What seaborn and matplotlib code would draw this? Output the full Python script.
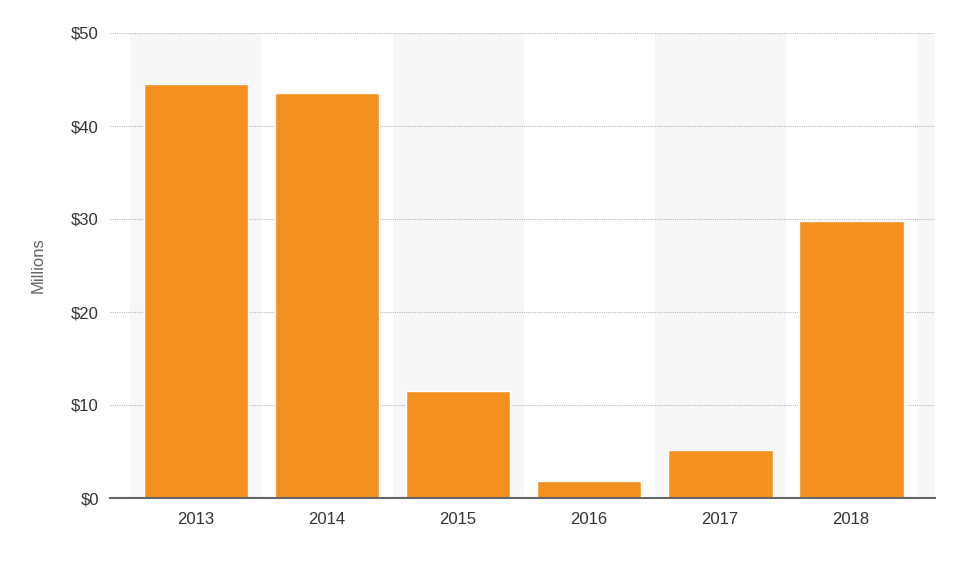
import matplotlib
matplotlib.use("Agg")
import matplotlib.pyplot as plt
import seaborn as sns
import pandas as pd
from matplotlib.ticker import FixedLocator

years = ["2013", "2014", "2015", "2016", "2017", "2018"]
values = [44.5, 43.5, 11.5, 1.8, 5.2, 29.8]
yticks = [0, 10, 20, 30, 40, 50]
ylabels = ["$0", "$10", "$20", "$30", "$40", "$50"]

sns.set_style("white")
plt.rcParams['font.family'] = ['Liberation Sans', 'DejaVu Sans']

fig = plt.figure(figsize=(9.65, 5.8), dpi=100)
ax = fig.add_axes([110/965, 82/580, 825/965, 465/580])
df = pd.DataFrame({"year": years, "value": values})

for i in range(0, 7, 2):
    ax.axvspan(i - 0.5, i + 0.5, color="#f7f7f7", zorder=0, lw=0)
for y in yticks[1:]:
    ax.axhline(y, color="#bbbbbb", lw=0.8, ls=(0, (1, 1)), zorder=0.5)

sns.barplot(data=df, x="year", y="value", color="#f39020", saturation=1,
            width=0.8, ax=ax, zorder=2)

ax.set_xlim(-0.656, 5.64)
ax.set_ylim(0, 50)
ax.set_yticks(yticks)
ax.set_yticklabels(ylabels, fontsize=12, color="#333333")
ax.tick_params(axis="y", length=0, pad=8)
ax.tick_params(axis="x", length=0, labelsize=12, labelcolor="#333333", pad=10)
ax.xaxis.set_minor_locator(FixedLocator([i - 0.5 for i in range(7)]))
ax.tick_params(axis="x", which="minor", length=16, width=1.5, color="#666666", direction="inout")
for s in ["top", "right", "left"]:
    ax.spines[s].set_visible(False)
ax.spines["bottom"].set_color("#666666")
ax.spines["bottom"].set_linewidth(1.5)
ax.set_xlabel("")
ax.set_ylabel("Millions", fontsize=12, color="#666666", labelpad=18)

fig.savefig("out.png", dpi=100)
